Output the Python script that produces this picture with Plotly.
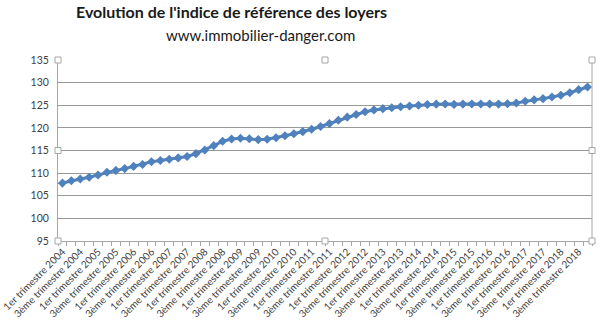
import plotly.graph_objects as go

# Indice de référence des loyers, trimestriel 2004-2018
years = list(range(2004, 2019))
quarter_names = ["1er", "2ème", "3ème", "4ème"]
categories = [f"{q} trimestre {y}" for y in years for q in quarter_names]

irl = [
    107.8, 108.3, 108.7, 109.1,   # 2004
    109.6, 110.2, 110.6, 111.0,   # 2005
    111.5, 111.9, 112.5, 112.8,   # 2006
    113.07, 113.37, 113.68, 114.30,  # 2007
    115.12, 116.07, 117.03, 117.54,  # 2008
    117.70, 117.59, 117.41, 117.47,  # 2009
    117.81, 118.26, 118.70, 119.17,  # 2010
    119.69, 120.31, 120.95, 121.68,  # 2011
    122.37, 122.96, 123.55, 123.97,  # 2012
    124.25, 124.44, 124.66, 124.83,  # 2013
    125.00, 125.15, 125.24, 125.29,  # 2014
    125.19, 125.25, 125.26, 125.28,  # 2015
    125.26, 125.25, 125.33, 125.50,  # 2016
    125.90, 126.19, 126.46, 126.82,  # 2017
    127.22, 127.77, 128.45, 129.03,  # 2018
]

y_ticks = [95, 100, 105, 110, 115, 120, 125, 130, 135]

idx = list(range(len(categories)))
label_idx = idx[::2]
label_text = [categories[i] for i in label_idx]
boundaries = [i - 0.5 for i in range(len(categories) + 1)]

blue = "#4F81BD"
axis_grey = "#A6A6A6"
text_grey = "#404040"
font_family = "Lato, 'Open Sans', sans-serif"

fig = go.Figure()
fig.add_trace(go.Scatter(
    x=idx, y=irl, mode="lines+markers",
    line=dict(color=blue, width=3),
    marker=dict(symbol="diamond", size=7, color=blue),
    hovertext=categories, hoverinfo="text+y",
))

# Plot-area frame with selection handles
handle_pts = [(0, 0), (0.5, 0), (1, 0), (0, 0.5), (1, 0.5), (0, 1), (0.5, 1), (1, 1)]
shapes = [dict(type="line", xref="paper", yref="paper", x0=1, x1=1, y0=0, y1=1,
               line=dict(color=axis_grey, width=1))]
hw, hh = 3 / 534, 3 / 181
for px, py in handle_pts:
    shapes.append(dict(type="rect", xref="paper", yref="paper",
                       x0=px - hw, x1=px + hw, y0=py - hh, y1=py + hh,
                       fillcolor="white", line=dict(color=axis_grey, width=1)))

fig.update_layout(
    width=600, height=324,
    margin=dict(l=58, r=8, t=60, b=83),
    paper_bgcolor="white", plot_bgcolor="white",
    showlegend=False,
    font=dict(family=font_family, color=text_grey),
    shapes=shapes,
    annotations=[
        dict(text="<b>Evolution de l'indice de référence des loyers</b>",
             xref="paper", yref="paper", x=(231 - 58) / 534, y=1.0,
             xanchor="center", yanchor="bottom", yshift=37, showarrow=False,
             font=dict(size=16, color="#1a1a1a", family=font_family)),
        dict(text="www.immobilier-danger.com",
             xref="paper", yref="paper", x=(260 - 58) / 534, y=1.0,
             xanchor="center", yanchor="bottom", yshift=14, showarrow=False,
             font=dict(size=15, color="#1a1a1a", family=font_family)),
    ],
)

fig.update_xaxes(
    automargin=False,
    range=[-0.5, len(categories) - 0.5],
    tickmode="array", tickvals=label_idx, ticktext=label_text,
    tickangle=-45, tickfont=dict(size=10, color=text_grey),
    ticklabeloverflow="allow",
    ticks="", showgrid=False, zeroline=False,
    showline=True, linecolor=axis_grey, linewidth=1,
    minor=dict(tickmode="array", tickvals=boundaries, ticks="outside",
               ticklen=4, tickcolor=axis_grey, showgrid=False),
)
fig.update_yaxes(
    automargin=False,
    range=[95, 135], tickmode="array", tickvals=y_ticks,
    tickfont=dict(size=10.5, color=text_grey),
    ticklabelstandoff=6,
    showgrid=True, gridcolor="#999999", gridwidth=1,
    zeroline=False, showline=True, linecolor=axis_grey, linewidth=1,
    ticks="", ticklen=0,
)

fig.write_html("out.html")
